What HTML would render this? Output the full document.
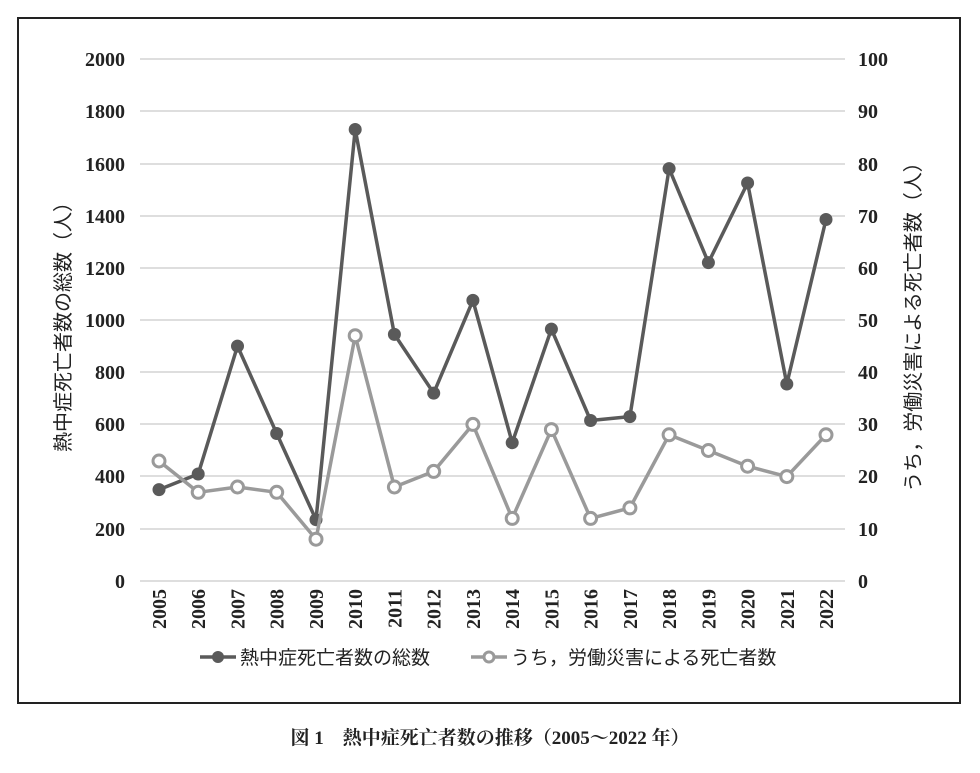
<!DOCTYPE html>
<html><head><meta charset="utf-8"><style>
body{margin:0;background:#fff;}
svg text{font-family:"Liberation Serif","Noto Serif CJK SC",serif;}
.j{font-family:"Liberation Sans","Noto Sans CJK JP",sans-serif !important;}
</style></head><body>
<svg width="980" height="768" viewBox="0 0 980 768" xmlns="http://www.w3.org/2000/svg">
<rect x="18" y="18" width="942" height="685" fill="#fff" stroke="#222" stroke-width="2"/>
<g stroke="#d4d4d4" stroke-width="1.5">
<line x1="140" x2="845" y1="59" y2="59"/><line x1="140" x2="845" y1="111" y2="111"/><line x1="140" x2="845" y1="164" y2="164"/><line x1="140" x2="845" y1="216" y2="216"/><line x1="140" x2="845" y1="268" y2="268"/><line x1="140" x2="845" y1="320" y2="320"/><line x1="140" x2="845" y1="372" y2="372"/><line x1="140" x2="845" y1="424" y2="424"/><line x1="140" x2="845" y1="476" y2="476"/><line x1="140" x2="845" y1="529" y2="529"/><line x1="140" x2="845" y1="581" y2="581"/>
</g>
<g font-size="20" font-weight="bold" text-anchor="end" fill="#222">
<text x="125" y="66">2000</text><text x="125" y="118">1800</text><text x="125" y="171">1600</text><text x="125" y="223">1400</text><text x="125" y="275">1200</text><text x="125" y="327">1000</text><text x="125" y="379">800</text><text x="125" y="431">600</text><text x="125" y="483">400</text><text x="125" y="536">200</text><text x="125" y="588">0</text>
</g>
<g font-size="20" font-weight="bold" fill="#222">
<text x="858" y="66">100</text><text x="858" y="118">90</text><text x="858" y="171">80</text><text x="858" y="223">70</text><text x="858" y="275">60</text><text x="858" y="327">50</text><text x="858" y="379">40</text><text x="858" y="431">30</text><text x="858" y="483">20</text><text x="858" y="536">10</text><text x="858" y="588">0</text>
</g>
<g font-size="20" font-weight="bold" fill="#222" text-anchor="end">
<text transform="translate(166,589) rotate(-90)">2005</text>
<text transform="translate(205.2,589) rotate(-90)">2006</text>
<text transform="translate(244.5,589) rotate(-90)">2007</text>
<text transform="translate(283.7,589) rotate(-90)">2008</text>
<text transform="translate(323,589) rotate(-90)">2009</text>
<text transform="translate(362.2,589) rotate(-90)">2010</text>
<text transform="translate(401.4,589) rotate(-90)">2011</text>
<text transform="translate(440.7,589) rotate(-90)">2012</text>
<text transform="translate(479.9,589) rotate(-90)">2013</text>
<text transform="translate(519.2,589) rotate(-90)">2014</text>
<text transform="translate(558.4,589) rotate(-90)">2015</text>
<text transform="translate(597.6,589) rotate(-90)">2016</text>
<text transform="translate(636.9,589) rotate(-90)">2017</text>
<text transform="translate(676.1,589) rotate(-90)">2018</text>
<text transform="translate(715.4,589) rotate(-90)">2019</text>
<text transform="translate(754.6,589) rotate(-90)">2020</text>
<text transform="translate(793.8,589) rotate(-90)">2021</text>
<text transform="translate(833,589) rotate(-90)">2022</text>
</g>
<text class="j" font-size="20" fill="#222" text-anchor="middle" transform="translate(70,322) rotate(-90)">熱中症死亡者数の総数（人）</text>
<text class="j" font-size="20" fill="#222" text-anchor="middle" transform="translate(920,322) rotate(-90)">うち，労働災害による死亡者数（人）</text>
<polyline fill="none" stroke="#5a5a5a" stroke-width="3.5" stroke-linejoin="round" points="159,489.6 198.2,474 237.5,346.1 276.7,433.5 316,519.7 355.2,129.5 394.4,334.4 433.7,393.1 472.9,300.4 512.2,442.7 551.4,329.1 590.6,420.5 629.9,416.6 669.1,168.6 708.4,262.6 747.6,183 786.8,384 826,219.5"/>
<g fill="#5a5a5a">
<circle cx="159" cy="489.6" r="6.5"/><circle cx="198.2" cy="474" r="6.5"/><circle cx="237.5" cy="346.1" r="6.5"/><circle cx="276.7" cy="433.5" r="6.5"/><circle cx="316" cy="519.7" r="6.5"/><circle cx="355.2" cy="129.5" r="6.5"/><circle cx="394.4" cy="334.4" r="6.5"/><circle cx="433.7" cy="393.1" r="6.5"/><circle cx="472.9" cy="300.4" r="6.5"/><circle cx="512.2" cy="442.7" r="6.5"/><circle cx="551.4" cy="329.1" r="6.5"/><circle cx="590.6" cy="420.5" r="6.5"/><circle cx="629.9" cy="416.6" r="6.5"/><circle cx="669.1" cy="168.6" r="6.5"/><circle cx="708.4" cy="262.6" r="6.5"/><circle cx="747.6" cy="183" r="6.5"/><circle cx="786.8" cy="384" r="6.5"/><circle cx="826" cy="219.5" r="6.5"/>
</g>
<polyline fill="none" stroke="#9a9a9a" stroke-width="3.5" stroke-linejoin="round" points="159,461 198.2,492.3 237.5,487 276.7,492.3 316,539.2 355.2,335.7 394.4,487 433.7,471.4 472.9,424.4 512.2,518.4 551.4,429.6 590.6,518.4 629.9,507.9 669.1,434.8 708.4,450.5 747.6,466.2 786.8,476.6 826,434.8"/>
<g fill="#fff" stroke="#9a9a9a" stroke-width="3">
<circle cx="159" cy="461" r="6"/><circle cx="198.2" cy="492.3" r="6"/><circle cx="237.5" cy="487" r="6"/><circle cx="276.7" cy="492.3" r="6"/><circle cx="316" cy="539.2" r="6"/><circle cx="355.2" cy="335.7" r="6"/><circle cx="394.4" cy="487" r="6"/><circle cx="433.7" cy="471.4" r="6"/><circle cx="472.9" cy="424.4" r="6"/><circle cx="512.2" cy="518.4" r="6"/><circle cx="551.4" cy="429.6" r="6"/><circle cx="590.6" cy="518.4" r="6"/><circle cx="629.9" cy="507.9" r="6"/><circle cx="669.1" cy="434.8" r="6"/><circle cx="708.4" cy="450.5" r="6"/><circle cx="747.6" cy="466.2" r="6"/><circle cx="786.8" cy="476.6" r="6"/><circle cx="826" cy="434.8" r="6"/>
</g>
<line x1="200" x2="236" y1="657" y2="657" stroke="#5a5a5a" stroke-width="3.5"/>
<circle cx="218" cy="657" r="6" fill="#5a5a5a"/>
<text class="j" x="240" y="664" font-size="19" fill="#222">熱中症死亡者数の総数</text>
<line x1="471" x2="507" y1="657" y2="657" stroke="#9a9a9a" stroke-width="3.5"/>
<circle cx="489" cy="657" r="5" fill="#fff" stroke="#9a9a9a" stroke-width="3"/>
<text class="j" x="511" y="664" font-size="19" fill="#222">うち，労働災害による死亡者数</text>
<text x="490" y="744" font-size="19" font-weight="bold" fill="#222" text-anchor="middle">図 1　熱中症死亡者数の推移（2005〜2022 年）</text>
</svg>
</body></html>
